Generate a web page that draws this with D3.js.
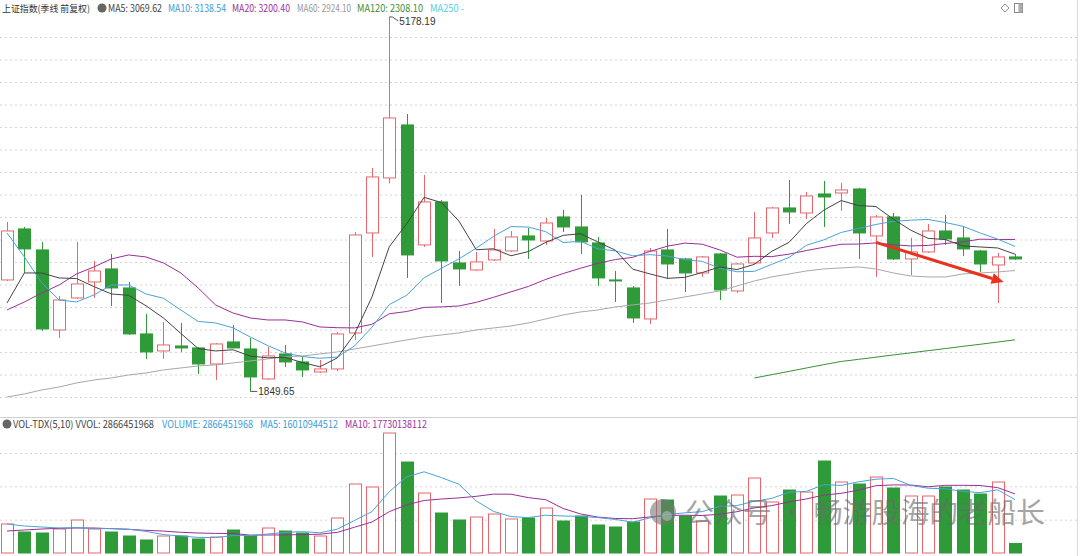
<!DOCTYPE html>
<html><head><meta charset="utf-8">
<script src="https://cdn.jsdelivr.net/npm/d3@7"></script>
<style>
body{margin:0;background:#fff;}
svg{display:block;font-family:"Liberation Sans","Noto Sans CJK SC","Noto Sans",sans-serif;}
.hdr{font-family:"Liberation Sans Narrow","Noto Sans CJK SC",sans-serif;}
</style>
</head><body>
<svg id="c" width="1080" height="556"></svg>
<script>
const quarters = ["2009Q4",
"2010Q1","2010Q2","2010Q3","2010Q4","2011Q1","2011Q2","2011Q3","2011Q4",
"2012Q1","2012Q2","2012Q3","2012Q4","2013Q1","2013Q2","2013Q3","2013Q4",
"2014Q1","2014Q2","2014Q3","2014Q4","2015Q1","2015Q2","2015Q3","2015Q4",
"2016Q1","2016Q2","2016Q3","2016Q4","2017Q1","2017Q2","2017Q3","2017Q4",
"2018Q1","2018Q2","2018Q3","2018Q4","2019Q1","2019Q2","2019Q3","2019Q4",
"2020Q1","2020Q2","2020Q3","2020Q4","2021Q1","2021Q2","2021Q3","2021Q4",
"2022Q1","2022Q2","2022Q3","2022Q4","2023Q1","2023Q2","2023Q3","2023Q4",
"2024Q1","2024Q2"];

const open = [2840.4,3293.7,3107.1,2396.0,2680.4,2822.6,2938.2,2769.3,2360.5,2209.3,2253.7,2236.0,2093.7,2289.3,2227.1,1960.4,2182.6,2111.5,2022.6,2049.3,2369.3,3258.2,3747.1,4218.2,3151.5,3533.7,2991.6,2929.3,3018.2,3098.2,3231.5,3187.1,3400.4,3311.5,3169.3,2840.4,2769.3,2493.7,3107.1,3027.1,2902.6,3071.5,2742.6,2991.6,3258.2,3480.4,3435.9,3604.8,3613.7,3649.3,3231.5,3400.4,3027.1,3089.3,3275.9,3213.7,3098.2,2973.7,3044.9];
const high = [3355.9,3311.5,3178.2,2698.2,3178.2,3009.3,3071.5,2822.6,2538.1,2467.0,2458.2,2244.8,2280.4,2440.4,2324.9,2244.8,2262.6,2164.9,2129.3,2378.2,3267.0,3836.0,5178.19,4315.9,3773.8,3551.5,3098.2,3089.3,3293.7,3275.9,3302.6,3391.5,3462.6,3596.0,3222.6,2920.4,2787.1,3124.9,3293.7,3036.0,3053.8,3080.4,2991.6,3444.8,3489.3,3729.3,3622.6,3720.4,3702.6,3658.2,3418.2,3435.9,3213.7,3338.2,3418.2,3311.5,3107.1,3080.4,3071.5];
const low = [2831.5,2902.6,2387.1,2324.9,2671.5,2680.4,2609.3,2351.6,2138.2,2138.2,2200.4,2004.8,1951.5,2236.0,1849.65,1951.5,2067.1,1978.2,2013.7,2031.5,2307.1,3044.9,3700.0,2858.2,3133.7,2636.0,2787.1,2920.4,3009.3,3089.3,3027.1,3151.5,3267.0,3071.5,2787.1,2644.8,2458.2,2449.3,2849.3,2733.7,2867.1,2662.6,2724.8,2982.6,3213.7,3338.2,3382.6,3311.5,3453.7,3027.1,2867.1,3018.2,2884.9,3080.4,3151.5,3053.8,2911.5,2636.0,3018.2];
const close = [3275.9,3116.0,2404.8,2662.6,2804.8,2920.4,2769.3,2360.5,2200.4,2262.6,2236.0,2093.7,2271.5,2236.0,1978.2,2164.9,2111.5,2040.4,2049.3,2360.5,3240.4,3755.9,4280.4,3062.7,3533.7,3009.3,2938.2,3000.4,3107.1,3222.6,3196.0,3346.9,3311.5,3178.2,2858.2,2831.5,2502.6,3098.2,2982.6,2902.6,3044.9,2751.5,2982.6,3213.7,3480.4,3444.8,3587.1,3578.2,3640.4,3258.2,3400.4,3027.1,3089.3,3275.9,3204.9,3116.0,2982.6,3044.9,3027.1];

// volume in billions (1e9)
const volume = [8.7,6.3,6.0,7.2,9.9,7.2,6.3,5.1,3.9,5.1,5.1,4.2,4.8,6.9,5.1,7.5,6.6,6.0,5.1,10.5,20.7,19.8,36.0,27.3,18.0,12.0,9.9,10.8,11.7,10.2,10.5,13.5,9.6,11.1,8.4,7.8,9.3,16.2,15.9,11.1,9.6,17.1,17.4,22.5,15.3,18.9,18.3,27.6,21.3,20.7,22.8,19.5,17.1,17.1,19.8,18.9,17.7,21.3,2.866451968];
const volMA5 = [8.7,8.1,7.8,7.5,7.62,7.32,7.32,7.14,6.48,5.52,5.1,4.68,4.62,5.22,5.22,5.7,6.18,6.42,6.06,7.14,9.78,12.42,18.42,22.86,24.36,22.62,20.64,15.6,12.48,10.92,10.62,11.34,11.1,10.98,10.62,10.08,9.24,10.56,11.52,12.06,12.42,13.98,14.22,15.54,16.38,18.24,18.48,20.52,20.28,21.36,22.14,22.38,20.28,19.44,19.26,18.48,18.12,18.96,16.011];
const volMA10 = [6.6,6.9,7.2,7.4,7.5,7.5,7.3,7.1,6.8,6.57,6.21,6.0,5.88,5.85,5.37,5.4,5.43,5.52,5.64,6.18,7.74,9.3,12.42,14.46,15.75,16.2,16.53,17.01,17.67,17.64,16.62,15.99,13.35,11.73,10.77,10.35,10.29,10.83,11.25,11.34,11.25,11.61,12.39,13.53,14.22,15.33,16.23,17.37,17.91,18.87,20.19,20.43,20.4,19.86,20.31,20.31,20.25,19.62,17.73];

const ma5 = [2635.9,2902.6,2902.6,2858.2,2852.8,2781.7,2715.9,2703.5,2611.0,2502.6,2365.7,2230.6,2209.3,2219.9,2163.0,2148.8,2152.4,2106.1,2068.8,2147.0,2360.4,2689.3,3137.3,3339.9,3574.6,3528.4,3364.8,3108.8,3117.7,3055.5,3092.8,3174.6,3236.8,3251.0,3178.2,3105.3,2936.4,2893.7,2854.6,2863.5,2906.2,2955.9,2932.8,2979.0,3094.6,3174.6,3341.7,3460.8,3546.2,3501.7,3492.8,3380.8,3283.1,3210.2,3199.5,3142.6,3133.7,3124.8,3069.62];
const ma10 = [3258.2,3044.8,2813.7,2662.6,2644.8,2707.0,2795.9,2795.9,2715.9,2677.7,2573.7,2471.5,2458.2,2415.5,2332.8,2257.3,2191.5,2159.5,2144.4,2154.2,2254.6,2420.8,2621.7,2704.4,2859.9,2944.4,3027.0,3123.0,3228.8,3315.1,3310.6,3269.7,3172.8,3184.4,3116.8,3099.0,3055.5,3065.3,3052.8,3020.8,3005.7,2946.2,2913.3,2916.8,2979.0,3040.4,3148.8,3196.8,3262.6,3298.2,3333.7,3361.3,3371.9,3378.2,3350.6,3317.7,3257.3,3203.9,3138.54];
const ma20 = [2573.7,2644.8,2724.8,2795.9,2893.7,2955.9,3027.1,3062.6,3044.8,2991.5,2902.6,2769.3,2618.2,2547.0,2502.6,2484.8,2484.8,2467.0,2422.6,2415.9,2414.1,2446.2,2539.9,2559.9,2596.4,2600.8,2609.3,2641.3,2686.6,2734.6,2782.6,2845.3,2897.3,2944.4,2988.4,3021.7,3041.3,3094.1,3140.8,3167.9,3158.2,3107.9,3043.0,3050.6,3048.0,3069.7,3102.2,3131.1,3157.7,3159.5,3169.7,3153.7,3142.6,3147.5,3164.8,3179.0,3203.0,3200.4,3200.40];
const ma60 = [1800.4,1827.0,1862.6,1889.2,1924.8,1951.5,1969.2,1995.9,2013.7,2040.4,2058.1,2075.9,2084.8,2102.6,2120.4,2138.2,2155.9,2164.8,2182.6,2200.4,2227.1,2253.7,2280.4,2307.1,2333.7,2351.5,2369.3,2396.0,2413.7,2431.5,2458.2,2493.7,2529.3,2555.9,2573.7,2600.4,2618.2,2636.0,2662.6,2689.3,2715.9,2742.6,2787.1,2831.5,2867.1,2893.7,2920.4,2938.2,2947.1,2955.9,2938.2,2902.6,2875.9,2867.1,2867.1,2893.7,2902.6,2911.5,2924.10];
const ma120 = [null,null,null,null,null,null,null,null,null,null,null,null,null,null,null,null,null,null,null,null,null,null,null,null,null,null,null,null,null,null,null,null,null,null,null,null,null,null,null,null,null,null,null,1969.2,1998.6,2027.9,2058.1,2087.5,2115.9,2134.6,2154.1,2173.7,2192.4,2211.9,2230.6,2250.2,2268.8,2288.4,2308.10];

const priceGrid = [1800,2000,2200,2400,2600,2800,3000,3200,3400,3600,3800,4000,4200,4400,4600,4800,5000];
const volGrid = [10,20,30];

const priceTitle = "上证指数(季线 前复权)";
const priceHeader = [
  {t:"MA5: 3069.62", c:"#444444"},
  {t:"MA10: 3138.54", c:"#3d9bd6"},
  {t:"MA20: 3200.40", c:"#a0309c"},
  {t:"MA60: 2924.10", c:"#999999"},
  {t:"MA120: 2308.10", c:"#3a8f3a"},
  {t:"MA250 -", c:"#5ccfe0"}
];
const volHeader = [
  {t:"VOL-TDX(5,10) VVOL: 2866451968", c:"#444444"},
  {t:"VOLUME: 2866451968", c:"#3d9bd6"},
  {t:"MA5: 16010944512", c:"#3d9bd6"},
  {t:"MA10: 17730138112", c:"#a0309c"}
];

const UP = "#e8666c", DOWN = "#2f9a38";
const svg = d3.select("#c");
const W = 1077;

const x = d3.scalePoint().domain(quarters).range([7, 1015]);
const y = d3.scaleLinear().domain([1800, 5200]).range([397, 14.5]);
const yv = d3.scaleLinear().domain([0, 40]).range([553, 419.7]);
const bw = 12;

// grids
const gridStyle = g => g.selectAll("line").attr("stroke","#d4d4d4").attr("stroke-dasharray","2,3");
svg.append("g")
  .call(d3.axisRight(y).tickValues(priceGrid).tickSize(W).tickFormat(""))
  .call(g=>g.select(".domain").remove()).call(gridStyle);
svg.append("g")
  .call(d3.axisRight(yv).tickValues(volGrid).tickSize(W).tickFormat(""))
  .call(g=>g.select(".domain").remove()).call(gridStyle);

// frame lines
svg.append("line").attr("x1",0).attr("x2",W).attr("y1",417.5).attr("y2",417.5).attr("stroke","#cfcfcf");
svg.append("line").attr("x1",W+0.5).attr("x2",W+0.5).attr("y1",0).attr("y2",556).attr("stroke","#dcdcdc");

const idx = d3.range(quarters.length);
const isUp = i => close[i] >= open[i];
const cx = i => Math.round(x(quarters[i])) + 0.5;

// volume bars
svg.append("g").selectAll("rect").data(idx).join("rect")
  .attr("x", i => cx(i) - bw/2)
  .attr("y", i => yv(volume[i]))
  .attr("width", bw)
  .attr("height", i => Math.max(1, yv(0) - yv(volume[i])))
  .attr("fill", i => isUp(i) ? "#fff" : DOWN)
  .attr("stroke", i => isUp(i) ? UP : DOWN)
  .attr("stroke-width", 1);

// volume MAs
const vline = arr => d3.line().x((d,i)=>x(quarters[i])).y(d=>yv(d))(arr);
svg.append("path").attr("d", vline(volMA10)).attr("fill","none").attr("stroke","#9a2e96").attr("stroke-width",1);
svg.append("path").attr("d", vline(volMA5)).attr("fill","none").attr("stroke","#4aa3d8").attr("stroke-width",1);

// price MA lines
const pline = d3.line().defined(d=>d!=null).x((d,i)=>x(quarters[i])).y(d=>y(d));
const lines = [
  {d:ma60, c:"#a8a8a8"},
  {d:ma120, c:"#3a8f3a"},
  {d:ma20, c:"#9a2e96"},
  {d:ma10, c:"#4aa3d8"},
  {d:ma5, c:"#444444"}
];

// candles
const cg = svg.append("g");
cg.selectAll("line").data(idx).join("line")
  .attr("x1", cx).attr("x2", cx)
  .attr("y1", i => y(high[i])).attr("y2", i => y(low[i]))
  .attr("stroke", i => isUp(i) ? UP : DOWN).attr("stroke-width",1);
cg.selectAll("rect").data(idx).join("rect")
  .attr("x", i => cx(i) - bw/2)
  .attr("y", i => y(Math.max(open[i], close[i])))
  .attr("width", bw)
  .attr("height", i => Math.max(1, Math.abs(y(open[i]) - y(close[i]))))
  .attr("fill", i => isUp(i) ? "#fff" : DOWN)
  .attr("stroke", i => isUp(i) ? UP : DOWN).attr("stroke-width",1);

lines.forEach(l => svg.append("path").attr("d", pline(l.d)).attr("fill","none").attr("stroke", l.c).attr("stroke-width",1));

// high / low annotations
const hiI = high.indexOf(d3.max(high)), loI = low.indexOf(d3.min(low));
const ann = svg.append("g").attr("font-size", 10).attr("fill","#333");
{
  const hx = x(quarters[hiI]), hy = y(high[hiI]);
  ann.append("path").attr("d", `M${hx},${hy}L${hx+3},${hy}L${hx+9},${hy+4}`).attr("stroke","#555").attr("fill","none");
  ann.append("text").attr("x", hx+10).attr("y", hy+8).text(d3.format(".2f")(high[hiI]));
  const lx = x(quarters[loI]), ly = y(low[loI]);
  ann.append("path").attr("d", `M${lx},${ly}L${lx+7},${ly}`).attr("stroke","#555").attr("fill","none");
  ann.append("text").attr("x", lx+8).attr("y", ly+4).text(d3.format(".2f")(low[loI]));
}

// red arrow annotation
const arrowFrom = {q:"2022Q2", v:3175}, arrowTo = {q:"2024Q1", v:2822};
{
  const x1 = x(arrowFrom.q), y1 = y(arrowFrom.v), x2 = x(arrowTo.q)+6, y2 = y(arrowTo.v);
  const ang = Math.atan2(y2-y1, x2-x1), L = 12, Wd = 5.5;
  const bx = x2 - L*Math.cos(ang), by = y2 - L*Math.sin(ang);
  svg.append("line").attr("x1",x1).attr("y1",y1).attr("x2",bx).attr("y2",by)
    .attr("stroke","#e8321e").attr("stroke-width",3);
  svg.append("path").attr("d",
    `M${x2},${y2}L${bx - Wd*Math.sin(ang)},${by + Wd*Math.cos(ang)}L${bx + Wd*Math.sin(ang)},${by - Wd*Math.cos(ang)}Z`)
    .attr("fill","#e8321e");
}

// headers (narrow font, fitted into the reference widths)
const ph = svg.append("g").attr("class","hdr").attr("font-size", 10);
ph.append("text").attr("x",2).attr("y",12).attr("fill","#333").attr("font-size",9.5)
  .attr("textLength",88).attr("lengthAdjust","spacingAndGlyphs").text(priceTitle);
ph.append("circle").attr("cx",102).attr("cy",8).attr("r",4.5).attr("fill","#666");
const phx = [108,168,232,297,357,430], phw = [54,58,58,54,66,34];
priceHeader.forEach((h,i)=>ph.append("text").attr("x",phx[i]).attr("y",12).attr("fill",h.c)
  .attr("textLength",phw[i]).attr("lengthAdjust","spacingAndGlyphs").text(h.t));

const vh = svg.append("g").attr("class","hdr").attr("font-size", 10);
vh.append("circle").attr("cx",7).attr("cy",424).attr("r",4.5).attr("fill","#666");
const vhx = [13,162,260,345], vhw = [141,91,78,82];
volHeader.forEach((h,i)=>vh.append("text").attr("x",vhx[i]).attr("y",428).attr("fill",h.c)
  .attr("textLength",vhw[i]).attr("lengthAdjust","spacingAndGlyphs").text(h.t));

// top-right icons
svg.append("path").attr("d","M1005,4L1009,8L1005,12L1001,8Z").attr("fill","none").attr("stroke","#888");
svg.append("rect").attr("x",1014.5).attr("y",3.5).attr("width",8).attr("height",9).attr("fill","none").attr("stroke","#888");
svg.append("rect").attr("x",1018.5).attr("y",3.5).attr("width",4).attr("height",9).attr("fill","#aaa");

// watermark
const wm = svg.append("g").attr("opacity",0.6);
wm.append("circle").attr("cx",663).attr("cy",512).attr("r",13).attr("fill","#777");
wm.append("circle").attr("cx",667).attr("cy",516).attr("r",5).attr("fill","#bbb");
wm.append("text").attr("x",685).attr("y",523).attr("font-size",28).attr("fill","#6a6a6a")
  .attr("font-family","Noto Sans CJK SC")
  .attr("textLength",360).attr("lengthAdjust","spacingAndGlyphs")
  .text("公众号 · 畅游股海的老船长");
</script>
</body></html>
